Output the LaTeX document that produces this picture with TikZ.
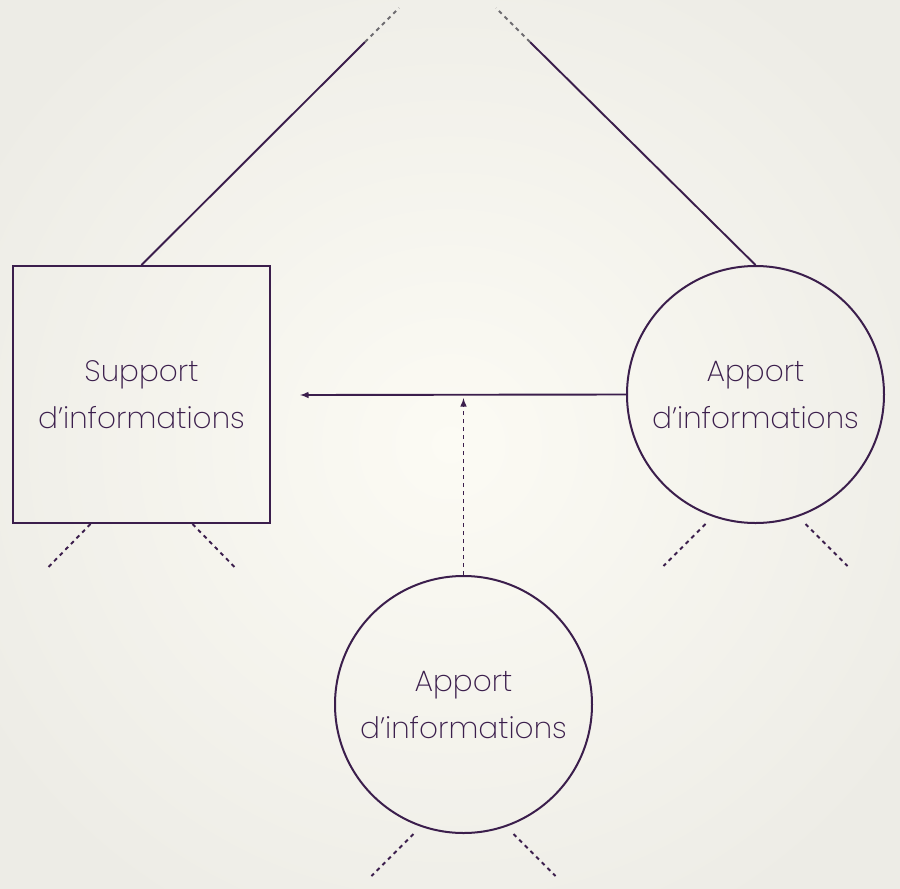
\documentclass[tikz,border=0pt]{standalone}
\usepackage{fontspec}
\setmainfont{Poppins}[UprightFont=* ExtraLight]
\usetikzlibrary{calc}
\usetikzlibrary{positioning}
\definecolor{lila}{HTML}{3B1E4C}
\definecolor{grau}{HTML}{6E6C70}
\definecolor{hell}{HTML}{FCFBF4}
\definecolor{rand}{HTML}{EDECE6}
\tikzset{
	kasten/.style={draw=lila, line width=2pt, minimum size=257pt, inner sep=0pt, align=center, text=lila, font=\fontsize{29.5}{47}\selectfont},
	kreis/.style={kasten, circle},
	linie/.style={draw=lila, line width=1.9pt},
	strich/.style={linie, dash pattern=on 4pt off 4pt}
}
\begin{document}
\begin{tikzpicture}[x=1pt,y=-1pt]
		\useasboundingbox (0,0) rectangle (900,889);
		\shade[inner color=hell, outer color=rand] (-100,-100) rectangle (1000,989);
		\path 	(141.5,394.5)	node[kasten] (a) 	{Support\\d’informations}
			(755.5,394.5)	node[kreis] (b)  	{Apport\\d’informations}
			(463.5,704.5)	node[kreis] (c)  	{Apport\\d’informations};
		\coordinate (t) at (300,395);
		\coordinate (l) at (365,42);
		\coordinate (r) at (530,42);
		\draw[linie,-latex] (b.west) -- (t);
		\draw[strich,-latex,shorten >=3pt] (c.north) -- (c.north|-t);
		\draw[linie] (a.north) -- (l);
		\draw[linie] (b.north) -- (r);
		\draw[strich,draw=grau] (l) -- ++(34,-34);
		\draw[strich,draw=grau] (r) -- ++(-34,-34);
		\draw[strich] ($(a.south)+(-51,0)$) -- ++(-42,43);
		\draw[strich] ($(a.south)+(51,0)$) -- ++(42,43);
		\draw[strich] ($(b.south)+(-50,0)$) -- ++(-42,42);
		\draw[strich] ($(b.south)+(50,0)$) -- ++(42,42);
		\draw[strich] ($(c.south)+(-50,0)$) -- ++(-42,42);
		\draw[strich] ($(c.south)+(50,0)$) -- ++(42,42);
	\end{tikzpicture}
\end{document}
